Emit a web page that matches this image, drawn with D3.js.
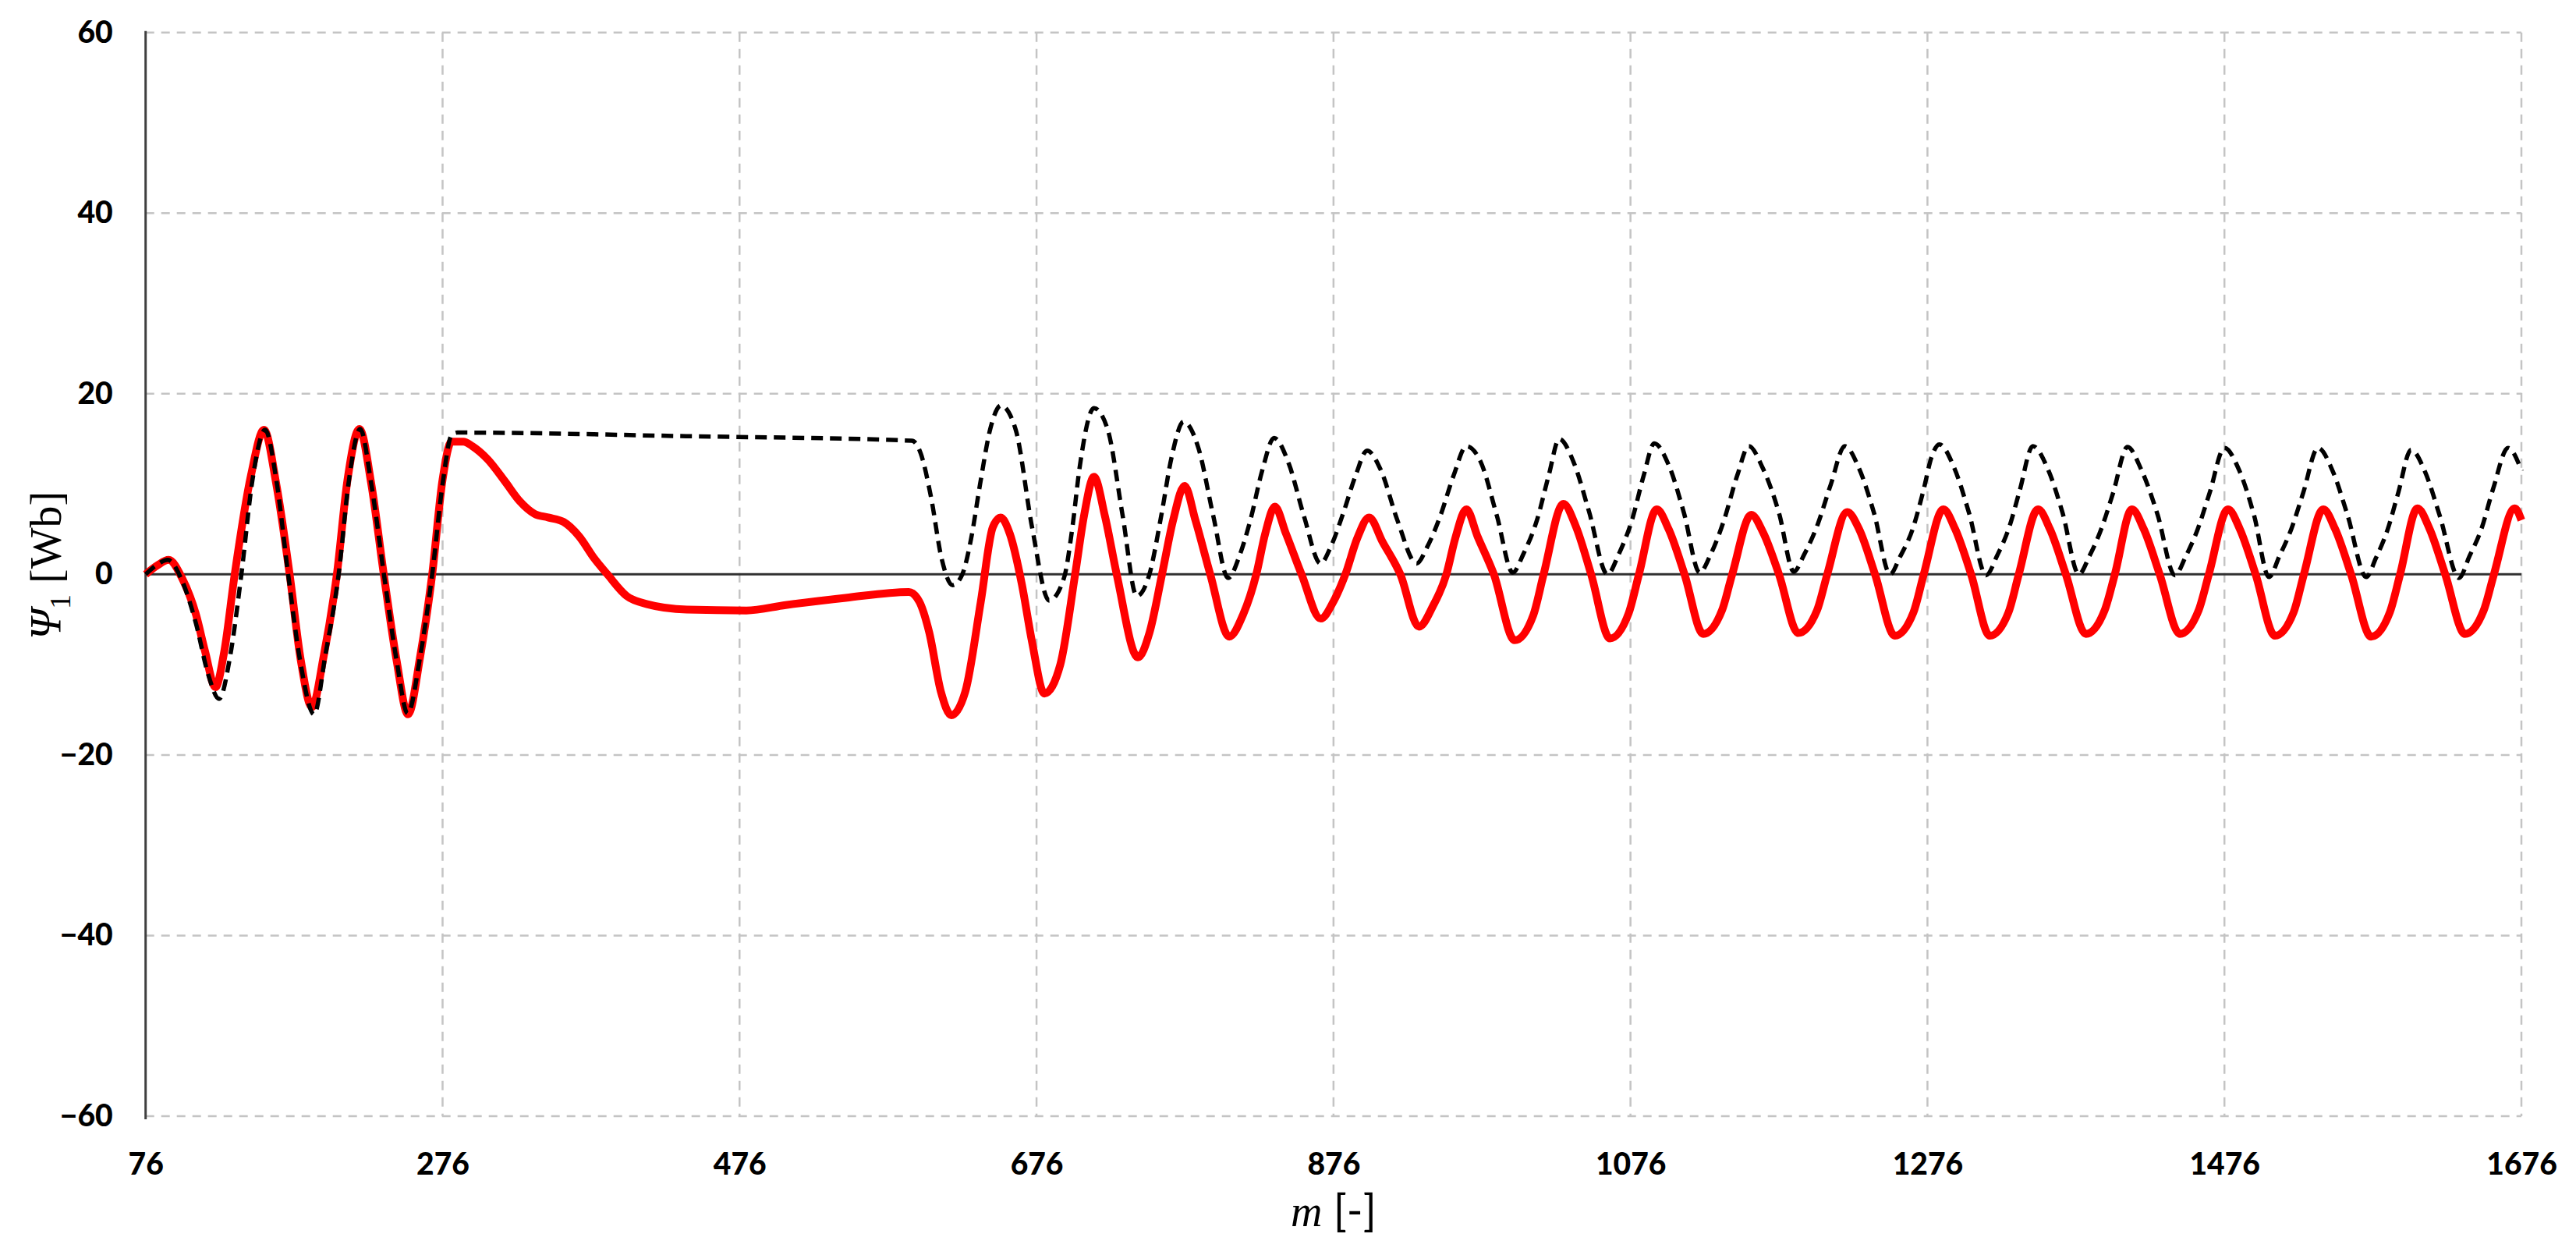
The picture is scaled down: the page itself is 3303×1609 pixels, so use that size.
<!DOCTYPE html>
<html>
<head>
<meta charset="utf-8">
<script src="https://cdn.jsdelivr.net/npm/d3@7"></script>
<style>
  body { margin: 0; background: #fff; }
  svg { display: block; }
</style>
</head>
<body>
<svg class="chart"></svg>
<script>
'use strict';

var xTicks = [76, 276, 476, 676, 876, 1076, 1276, 1476, 1676];
var yTicks = [-60, -40, -20, 0, 20, 40, 60];

// dashed black curve, [m, psi]
var psiRef = [
    [76, 0], [84, 1.1], [91, 1.6], [100, -0.5], [110, -5.5], [118, -11], [125.5, -13.8], [133, -9],
    [140.5, 0], [148, 10.5], [156.5, 16], [164, 10.5], [172, 0], [180, -9.5], [189.5, -15.5], [197, -9],
    [206, 0], [213, 10.5], [220.5, 16.1], [228, 10], [236.5, 0], [245, -9.5], [252.5, -15.4], [261, -9],
    [269, 0], [276, 10], [282, 15.4], [286, 15.7], [440, 15.3], [592, 14.8],
    [598, 13.4], [605, 8.5], [612, 1.8], [619.5, -1.2], [626, 0], [632, 4], [638, 10], [645, 16.2],
    [652, 18.7], [662, 16], [673, 5.2], [684.5, -2.9], [694.5, -0.4], [700, 5], [705, 11.8],
    [714.7, 18.4], [724, 16], [734, 6.5], [743.5, -2.4], [752, 0], [760, 6.5], [767, 13],
    [775, 16.9], [785, 14], [795, 6.5], [805, -0.4], [813, 2.2], [820, 6], [828, 11.5],
    [836, 15.1], [846, 12.2], [856, 6.5], [867.3, 1.2], [874, 3], [883, 7], [891, 11],
    [898.6, 13.7], [908, 11.5], [919, 6], [932, 1.2], [939, 3], [948, 6.5], [957, 11],
    [965.5, 14.2], [975, 12.5], [986, 6.5], [996.7, 0.2], [1004, 2.3], [1013, 6], [1021, 11],
    [1028, 15], [1038, 12.3], [1048, 7], [1060.5, 0], [1068, 2.2], [1077, 6], [1085, 11],
    [1092, 14.5], [1102, 12], [1112, 6.8], [1122.6, 0.2], [1130, 2.2], [1139, 6], [1148, 11],
    [1155.7, 14.2], [1165, 11.8], [1176, 6.8], [1186, 0.3], [1193, 2.2], [1202, 5.5], [1211, 10],
    [1220.3, 14.2], [1230, 11.7], [1240, 6.8], [1250.9, 0], [1257.4, 1.9], [1266, 5], [1273, 9.1], [1279, 13.1],
    [1284, 14.4], [1294, 11.8], [1304, 6.8], [1315.5, -0.1], [1323, 2.1], [1331, 5.2], [1338, 9.2],
    [1347, 14.2], [1357, 11.7], [1367, 6.8], [1378, 0], [1385, 2], [1393, 5], [1401, 9],
    [1410.7, 14.1], [1420, 11.6], [1431, 6.6], [1442.6, -0.1], [1450, 2], [1458, 5], [1466, 9],
    [1476, 14], [1486, 11.5], [1496, 6.5], [1506, -0.3], [1513, 2], [1521, 5], [1529, 9],
    [1539, 14], [1549, 11.4], [1559, 6.5], [1571.5, -0.3], [1578, 1.8], [1586, 5], [1593, 9],
    [1601.7, 13.8], [1611, 11.4], [1621, 6.5], [1634, -0.4], [1641, 2], [1649, 5], [1657, 9.5],
    [1667, 14], [1676, 11.5]
];

// red curve, [m, psi]
var psiCalc = [
    [76, 0], [84, 1], [91.5, 1.6], [100.5, -0.4], [110, -4.5], [116, -8.5], [123, -12.5], [129, -8.5],
    [136, 0], [147, 11], [155.7, 16], [164, 10], [173, 0], [180.5, -9.5], [188, -14.7], [196, -9],
    [204.8, 0], [212, 10.5], [220, 16.1], [228, 10], [236.4, 0], [245, -9.5], [252.7, -15.5], [261, -9],
    [269, 0], [276, 10.5], [282, 14.7], [290, 14.7], [296, 14.2], [306.6, 12.7], [318, 10.3],
    [328, 8.1], [338, 6.7], [347, 6.3], [357.5, 5.8], [368, 4.2], [378, 1.8], [387, 0], [400, -2.4],
    [413.8, -3.3], [440.5, -3.9], [480.6, -4.0], [507, -3.4], [547.5, -2.6], [590, -1.95],
    [597, -3], [603.7, -6.4], [611.6, -13], [618.6, -15.6], [628, -13], [638.4, -3.1], [646.5, 5.2],
    [651.8, 6.3], [658, 4.5], [666, -1], [673, -7.5], [681.3, -13.2], [692, -10], [702, 0], [708, 6.5],
    [714.7, 10.8], [722, 6.5], [730, 0], [744.3, -9.2], [752, -6.5], [760.5, 0], [768, 6],
    [775.7, 9.8], [783, 6], [793, 0], [805.8, -6.9], [815, -4.5], [824, 0], [830, 4.5],
    [836.5, 7.5], [844, 4.5], [854.5, 0], [867.4, -4.9], [876, -3], [884, 0], [892, 4],
    [900, 6.3], [909, 3.6], [921, 0], [933.5, -5.8], [943, -3.5], [952, 0], [958, 4],
    [965.5, 7.2], [973, 4.2], [984, 0], [998, -7.3], [1010.6, -4.5], [1017.5, 0],
    [1030.8, 7.8], [1039, 5.4], [1049.5, 0], [1062.2, -7.1], [1074.8, -4.3], [1081.7, 0],
    [1093.7, 7.2], [1101.7, 5], [1112.4, 0], [1125, -6.6], [1137.6, -4], [1144.5, 0],
    [1157.4, 6.6], [1165.4, 4.6], [1176, 0], [1189, -6.5], [1201.6, -4], [1208.5, 0],
    [1222, 6.9], [1230, 5], [1240.7, 0], [1254, -6.8], [1266.6, -4.2], [1273.5, 0],
    [1286.7, 7.2], [1294.7, 5], [1305.4, 0], [1318, -6.8], [1330.6, -4.2], [1337.5, 0],
    [1350.5, 7.2], [1358.5, 5], [1369.2, 0], [1382.7, -6.6], [1395.3, -4], [1402.2, 0],
    [1413.7, 7.2], [1421.7, 5], [1432.4, 0], [1446, -6.6], [1458.6, -4], [1465.5, 0],
    [1478.4, 7.2], [1486.4, 5], [1497, 0], [1510, -6.8], [1522.6, -4.2], [1529.5, 0],
    [1542.6, 7.2], [1550.6, 5], [1561.3, 0], [1574.8, -6.9], [1587.4, -4.2], [1594.3, 0],
    [1606, 7.3], [1614, 5.1], [1624.7, 0], [1638, -6.6], [1650.6, -4], [1657.5, 0],
    [1671.5, 7.3], [1676, 6]
];

var width = 3303;
var height = 1609;

var plotLeft = 186.7;
var plotRight = 3233;
var plotTop = 41.7;
var plotBottom = 1431;

var svg = d3.select('.chart')
    .attr('width', width)
    .attr('height', height);

var x = d3.scaleLinear().domain([76, 1676]).range([plotLeft, plotRight]);
var y = d3.scaleLinear().domain([-60, 60]).range([plotBottom, plotTop]);

// grid
svg.append('g').selectAll('line')
    .data(yTicks.filter(function (d) {return d !== 0;}))
    .enter().append('line')
    .attr('x1', plotLeft)
    .attr('x2', plotRight)
    .attr('y1', function (d) {return y(d);})
    .attr('y2', function (d) {return y(d);})
    .style('stroke', '#c4c4c4')
    .style('stroke-width', 2.5)
    .style('stroke-dasharray', '11,9');

svg.append('g').selectAll('line')
    .data(xTicks.slice(1))
    .enter().append('line')
    .attr('x1', function (d) {return x(d);})
    .attr('x2', function (d) {return x(d);})
    .attr('y1', plotTop)
    .attr('y2', plotBottom)
    .style('stroke', '#c4c4c4')
    .style('stroke-width', 2.5)
    .style('stroke-dasharray', '12,9');

// zero line and left axis line
svg.append('line')
    .attr('x1', plotLeft).attr('x2', plotRight)
    .attr('y1', y(0)).attr('y2', y(0))
    .style('stroke', '#303030')
    .style('stroke-width', 3);

svg.append('line')
    .attr('x1', plotLeft).attr('x2', plotLeft)
    .attr('y1', plotTop - 2).attr('y2', plotBottom + 4)
    .style('stroke', '#404040')
    .style('stroke-width', 3);

// tick labels
var xAxis = svg.append('g')
    .attr('transform', 'translate(0,' + plotBottom + ')')
    .call(d3.axisBottom(x).tickValues(xTicks).tickFormat(d3.format('d'))
        .tickSize(0).tickPadding(47));

var yAxis = svg.append('g')
    .attr('transform', 'translate(' + plotLeft + ',0)')
    .call(d3.axisLeft(y).tickValues(yTicks).tickSize(0).tickPadding(42));

[xAxis, yAxis].forEach(function (g) {
    g.select('.domain').remove();
    g.attr('font-family', 'Lato, sans-serif')
        .attr('font-size', 39)
        .attr('font-weight', 900);
    g.selectAll('text').style('fill', '#000');
});

// curves
var line = d3.line()
    .x(function (d) {return x(d[0]);})
    .y(function (d) {return y(d[1]);})
    .curve(d3.curveMonotoneX);

svg.append('path')
    .datum(psiCalc)
    .attr('d', line)
    .style('fill', 'none')
    .style('stroke', '#ff0000')
    .style('stroke-width', 10)
    .style('stroke-linejoin', 'round');

svg.append('path')
    .datum(psiRef)
    .attr('d', line)
    .style('fill', 'none')
    .style('stroke', '#000')
    .style('stroke-width', 5.5)
    .style('stroke-dasharray', '15,9');

// axis titles
var xTitle = svg.append('text')
    .attr('x', (plotLeft + plotRight) / 2)
    .attr('y', 1572)
    .attr('text-anchor', 'middle')
    .style('font-size', '56px')
    .style('fill', '#000');
xTitle.append('tspan')
    .style('font-family', '"Liberation Serif", serif')
    .style('font-style', 'italic')
    .text('m');
xTitle.append('tspan')
    .style('font-family', 'Lato, sans-serif')
    .text(' [-]');

var yTitle = svg.append('text')
    .attr('transform', 'translate(78,725) rotate(-90)')
    .attr('text-anchor', 'middle')
    .style('font-family', '"Liberation Serif", serif')
    .style('font-size', '56px')
    .style('fill', '#000');
yTitle.append('tspan')
    .style('font-style', 'italic')
    .text('Ψ');
yTitle.append('tspan')
    .attr('dy', 12)
    .style('font-size', '38px')
    .text('1');
yTitle.append('tspan')
    .attr('dy', -12)
    .text('  [Wb]');
</script>
</body>
</html>
